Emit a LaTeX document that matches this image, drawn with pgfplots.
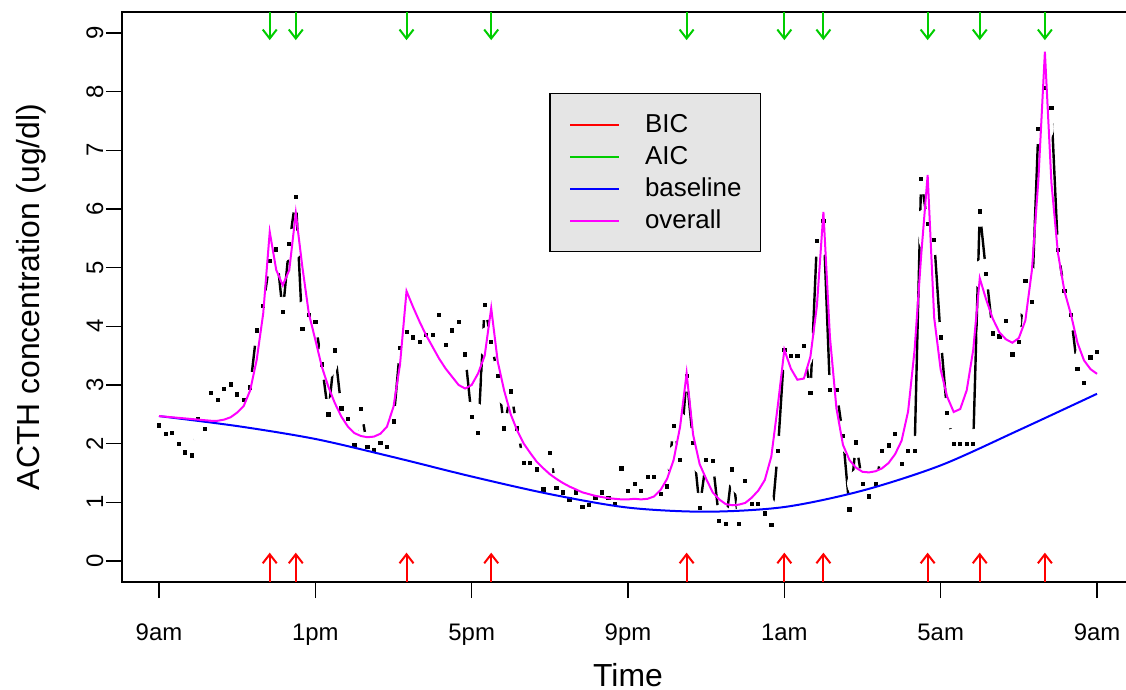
\documentclass[border=0pt]{standalone}
\usepackage{fontspec}
\setmainfont{Liberation Sans}
\usepackage{pgfplots}
\pgfplotsset{compat=1.18}
\usepackage{pgfplotstable}
\usetikzlibrary{arrows.meta}

\definecolor{gray90}{RGB}{229,229,229}
\definecolor{rred}{RGB}{255,0,0}
\definecolor{rgreen}{RGB}{0,205,0}
\definecolor{rblue}{RGB}{0,0,255}
\definecolor{rmagenta}{RGB}{255,0,255}

% observed ACTH, one sample every 10 minutes (i = 0 is 9am)
\pgfplotstableread{
i y
0 2.31
1 2.16
2 2.19
3 1.99
4 1.85
5 1.80
6 2.42
7 2.25
8 2.86
9 2.74
10 2.94
11 3.01
12 2.84
13 2.74
14 2.96
15 3.93
16 4.35
17 5.11
18 5.31
19 4.24
20 5.40
21 6.20
22 3.95
23 4.19
24 4.07
25 3.35
26 2.50
27 3.59
28 2.60
29 2.42
30 1.97
31 2.59
32 1.94
33 1.89
34 2.01
35 1.94
36 2.38
37 3.63
38 3.90
39 3.81
40 3.74
41 3.86
42 3.85
43 4.20
44 3.68
45 3.93
46 4.07
47 3.52
48 2.45
49 2.18
50 4.37
51 3.74
52 3.15
53 2.26
54 2.89
55 2.26
56 1.67
57 1.67
58 1.56
59 1.22
60 1.84
61 1.24
62 1.17
63 1.05
64 1.17
65 0.92
66 0.95
67 1.07
68 1.17
69 1.07
70 0.97
71 1.58
72 1.19
73 1.32
74 1.20
75 1.43
76 1.43
77 1.15
78 1.27
79 2.30
80 1.73
81 3.15
82 2.01
83 0.90
84 1.72
85 1.70
86 0.69
87 0.63
88 1.56
89 0.63
90 1.36
91 0.97
92 0.98
93 0.81
94 0.61
95 1.87
96 3.60
97 3.49
98 3.49
99 3.66
100 2.86
101 5.45
102 5.80
103 2.91
104 2.91
105 2.13
106 0.88
107 2.02
108 1.32
109 1.10
110 1.31
111 1.87
112 1.97
113 2.16
114 1.65
115 1.87
116 1.87
117 6.51
118 5.74
119 5.48
120 3.81
121 2.52
122 1.99
123 1.99
124 1.99
125 1.99
126 5.96
127 4.89
128 3.88
129 3.83
130 4.09
131 3.52
132 3.73
133 4.77
134 4.41
135 7.37
136 8.07
137 7.72
138 5.30
139 4.60
140 4.19
141 3.27
142 3.03
143 3.47
144 3.56
}\obs

% fitted overall curve
\pgfplotstableread{
i y
0 2.47
1 2.46
2 2.45
3 2.44
4 2.43
5 2.42
6 2.41
7 2.40
8 2.39
9 2.39
10 2.41
11 2.45
12 2.53
13 2.64
14 2.91
15 3.43
16 4.22
17 5.61
18 4.96
19 4.70
20 4.96
21 5.93
22 5.02
23 4.22
24 3.77
25 3.31
26 2.97
27 2.69
28 2.46
29 2.29
30 2.18
31 2.13
32 2.11
33 2.12
34 2.17
35 2.29
36 2.63
37 3.35
38 4.60
39 4.33
40 4.08
41 3.85
42 3.65
43 3.45
44 3.28
45 3.14
46 3.00
47 2.94
48 3.00
49 3.20
50 3.50
51 4.31
52 3.40
53 2.90
54 2.50
55 2.22
56 2.00
57 1.84
58 1.69
59 1.58
60 1.48
61 1.40
62 1.33
63 1.27
64 1.22
65 1.17
66 1.14
67 1.11
68 1.09
69 1.07
70 1.06
71 1.05
72 1.05
73 1.06
74 1.05
75 1.06
76 1.10
77 1.21
78 1.40
79 1.72
80 2.29
81 3.20
82 2.15
83 1.65
84 1.40
85 1.17
86 1.05
87 0.97
88 0.95
89 0.96
90 0.99
91 1.08
92 1.20
93 1.38
94 1.78
95 2.65
96 3.60
97 3.28
98 3.09
99 3.11
100 3.48
101 4.35
102 5.95
103 3.82
104 2.60
105 1.98
106 1.72
107 1.59
108 1.52
109 1.51
110 1.53
111 1.58
112 1.67
113 1.82
114 2.05
115 2.55
116 3.60
117 5.20
118 6.58
119 4.15
120 3.26
121 2.80
122 2.54
123 2.59
124 2.91
125 3.60
126 4.82
127 4.45
128 4.13
129 3.90
130 3.78
131 3.72
132 3.80
133 4.10
134 4.95
135 6.50
136 8.68
137 6.45
138 5.25
139 4.60
140 4.20
141 3.72
142 3.42
143 3.27
144 3.19
}\overall

% baseline
\pgfplotstableread{
i y
0 2.47
12 2.30
24 2.08
36 1.77
48 1.44
60 1.14
72 0.91
84 0.84
96 0.92
108 1.20
120 1.63
132 2.23
144 2.85
}\baseline

% pulse locations, arrow tails at the bottom and top of the frame
\pgfplotstableread{
i lo hi
17 -0.358 9.358
21 -0.358 9.358
38 -0.358 9.358
51 -0.358 9.358
81 -0.358 9.358
96 -0.358 9.358
102 -0.358 9.358
118 -0.358 9.358
126 -0.358 9.358
136 -0.358 9.358
}\pulses

\begin{document}
\begin{tikzpicture}
\begin{axis}[
  name=ax,
  scale only axis, width=506bp, height=285bp,
  xmin=-5.68, xmax=149.68, ymin=-0.358, ymax=9.358,
  clip marker paths=true,
  axis line style={line width=0.8bp},
  tick align=outside, tick pos=left, major tick length=8bp,
  tick style={line width=0.8bp, black},
  xtick={0,24,48,72,96,120,144},
  xticklabels={9am,1pm,5pm,9pm,1am,5am,9am},
  ytick={0,1,...,9},
  ticklabel style={font=\fontsize{12}{14}\selectfont, inner sep=0pt},
  xticklabel style={anchor=base},
  xticklabel shift=21bp,
  yticklabel style={rotate=90, anchor=base, /pgf/number format/assume math mode=true},
  yticklabel shift=1.5bp,
  xlabel={Time}, ylabel={ACTH concentration (ug/dl)},
  label style={font=\fontsize{16}{19}\selectfont},
  xlabel style={at={(axis description cs:0.5,-0.163)}, anchor=center},
  ylabel style={at={(axis description cs:-0.0899,0.5)}, anchor=center},
  legend cell align=left,
  legend image code/.code={\draw[#1] (2.5bp,0bp) -- (27bp,0bp);},
  legend style={at={(0.4222,0.8584)}, anchor=north west, fill=gray90,
    draw=black, line width=0.8bp, font=\fontsize{13}{15}\selectfont,
    inner xsep=9.5bp, inner ysep=7.5bp, row sep=0pt, column sep=12.5bp,
    nodes={inner sep=0pt, minimum height=16bp}},
]
\addlegendimage{rred, line width=1bp}
\addlegendimage{rgreen, line width=1bp}
\addlegendimage{rblue, line width=1bp}
\addlegendimage{rmagenta, line width=1bp}
\legend{BIC, AIC, baseline, overall}

% data drawn as points joined by lines with gaps (R type "b")
\addplot[black, line width=1.2bp, forget plot] table[x=i, y=y] {\obs};
\addplot[white, only marks, mark=*, mark size=7.5bp, mark options={draw=white, fill=white}, forget plot] table[x=i, y=y] {\obs};
\addplot[black, only marks, mark=square*, mark size=0.8bp, forget plot] table[x=i, y=y] {\obs};

\addplot[rblue, line width=1bp, smooth, forget plot] table[x=i, y=y] {\baseline};
\addplot[rmagenta, line width=1bp, forget plot] table[x=i, y=y] {\overall};

% pulse arrows
\addplot[rred, line width=1bp, mark=none, forget plot,
  quiver={u=0, v=0.5, every arrow/.append style={-{Straight Barb[length=4.5bp, width=7bp]}}}]
  table[x=i, y=lo] {\pulses};
\addplot[rgreen, line width=1bp, mark=none, forget plot,
  quiver={u=0, v=-0.48, every arrow/.append style={-{Straight Barb[length=4.5bp, width=7bp]}}}]
  table[x=i, y=hi] {\pulses};
\end{axis}
\pgfresetboundingbox
\path[use as bounding box] (ax.south west) ++(-61bp,-54bp) rectangle ([shift={(-4bp,6bp)}]ax.north east);
\end{tikzpicture}
\end{document}
